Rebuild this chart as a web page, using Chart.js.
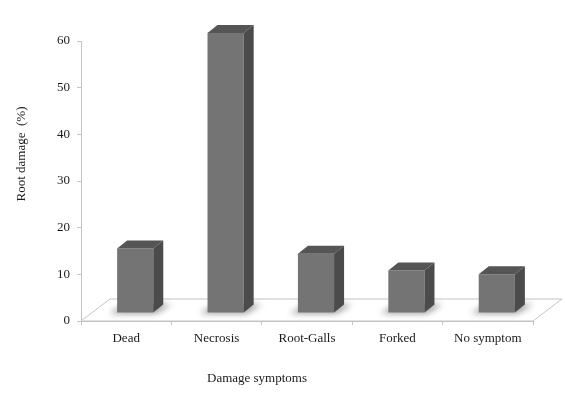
<!DOCTYPE html>
<html>
<head>
<meta charset="utf-8">
<style>
  html, body { margin: 0; padding: 0; background: #fff; }
  #wrap { width: 565px; height: 415px; position: relative; }
</style>
<script src="https://cdn.jsdelivr.net/npm/chart.js@4"></script>
</head>
<body>
<div id="wrap"><canvas id="c" width="565" height="415"></canvas></div>
<script>
// ---- Data ----
const categories = ['Dead', 'Necrosis', 'Root-Galls', 'Forked', 'No symptom'];
const rootDamage = [13.8, 60, 12.7, 9.1, 8.3];
const yTickMin = 0;
const yTickMax = 60;
const yTickStep = 10;
const yTitle = 'Root damage  (%)';
const xTitle = 'Damage symptoms';

const FONT = "'Liberation Serif', 'Times New Roman', serif";
const AXIS_GRAY = '#c4c4c4';
const TEXT = '#1a1a1a';

// 3D look plugin
const threeD = {
  id: 'threeD',
  beforeDatasetsDraw(chart, args, opts) {
    const ctx = chart.ctx;
    const x = chart.scales.x, y = chart.scales.y;
    const y0 = y.getPixelForValue(0);
    const L = x.left, R = x.right;
    // floor
    ctx.save();
    ctx.beginPath();
    ctx.moveTo(L, y0);
    ctx.lineTo(R, y0);
    ctx.lineTo(R + opts.floorDx, y0 + opts.floorDy);
    ctx.lineTo(L + opts.floorDx, y0 + opts.floorDy);
    ctx.closePath();
    ctx.fillStyle = '#ffffff';
    ctx.fill();
    ctx.strokeStyle = AXIS_GRAY;
    ctx.lineWidth = 1;
    ctx.stroke();
    // soft shadows under bars
    const meta = chart.getDatasetMeta(0);
    ctx.filter = 'blur(3px)';
    ctx.fillStyle = 'rgba(0,0,0,0.4)';
    meta.data.forEach(el => {
      const l = el.x - el.width / 2 + opts.ox;
      const r = el.x + el.width / 2 + opts.ox;
      const b = el.base + opts.oy;
      ctx.beginPath();
      ctx.moveTo(l - 8, b + 1);
      ctx.lineTo(r + 2, b + 1);
      ctx.lineTo(r + opts.dx + 8, b + opts.dy);
      ctx.lineTo(l + opts.dx - 2, b + opts.dy);
      ctx.closePath();
      ctx.fill();
    });
    ctx.restore();
  },
  beforeDatasetDraw(chart, args, opts) {
    chart.ctx.save();
    chart.ctx.translate(opts.ox, opts.oy);
  },
  afterDatasetDraw(chart, args, opts) {
    const ctx = chart.ctx;
    const meta = chart.getDatasetMeta(args.index);
    meta.data.forEach(el => {
      const l = el.x - el.width / 2;
      const r = el.x + el.width / 2;
      const t = el.y, b = el.base;
      // top face
      ctx.beginPath();
      ctx.moveTo(l, t);
      ctx.lineTo(l + opts.dx, t + opts.dy);
      ctx.lineTo(r + opts.dx, t + opts.dy);
      ctx.lineTo(r, t);
      ctx.closePath();
      ctx.fillStyle = opts.topColor;
      ctx.fill();
      // side face
      ctx.beginPath();
      ctx.moveTo(r, t);
      ctx.lineTo(r + opts.dx, t + opts.dy);
      ctx.lineTo(r + opts.dx, b + opts.dy);
      ctx.lineTo(r, b);
      ctx.closePath();
      ctx.fillStyle = opts.sideColor;
      ctx.fill();
    });
    ctx.restore();
  },
  afterDraw(chart) {
    const ctx = chart.ctx;
    ctx.save();
    ctx.fillStyle = TEXT;
    ctx.font = '13px ' + FONT;
    ctx.textAlign = 'center';
    ctx.textBaseline = 'middle';
    ctx.fillText(xTitle, 257, 379);
    ctx.translate(22, 154);
    ctx.rotate(-Math.PI / 2);
    ctx.fillText(yTitle, 0, 0);
    ctx.restore();
  }
};

new Chart(document.getElementById('c'), {
  type: 'bar',
  data: {
    labels: categories,
    datasets: [{
      data: rootDamage,
      backgroundColor: '#747474',
      borderWidth: 0,
      barPercentage: 0.4,
      categoryPercentage: 1.0,
      clip: false
    }]
  },
  options: {
    responsive: false,
    animation: false,
    events: [],
    layout: { padding: { top: 41, right: 32, left: 0, bottom: 0 } },
    plugins: {
      legend: { display: false },
      tooltip: { enabled: false },
      title: { display: false },
      threeD: {
        ox: 9, oy: -8, dx: 10, dy: -8,
        floorDx: 29, floorDy: -22,
        topColor: '#555555', sideColor: '#4b4b4b'
      }
    },
    scales: {
      x: {
        afterFit(s) { s.height = 94; },
        grid: {
          display: true, drawOnChartArea: false, drawTicks: true,
          tickLength: 4, color: AXIS_GRAY, offset: true
        },
        border: { display: true, color: AXIS_GRAY, width: 1 },
        ticks: { color: TEXT, font: { family: FONT, size: 13 }, padding: 6, maxRotation: 0 }
      },
      y: {
        min: yTickMin, max: yTickMax,
        afterFit(s) { s.width = 81; },
        grid: { display: true, drawOnChartArea: false, drawTicks: true, tickLength: 4, color: AXIS_GRAY },
        border: { display: true, color: AXIS_GRAY, width: 1 },
        ticks: { stepSize: yTickStep, color: TEXT, font: { family: FONT, size: 13 }, padding: 7 }
      }
    }
  },
  plugins: [threeD]
});
</script>
</body>
</html>
